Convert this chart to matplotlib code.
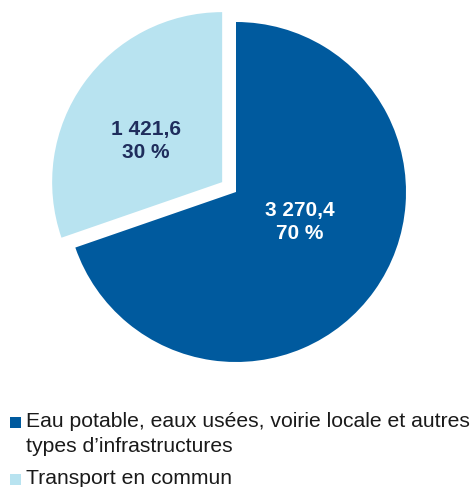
import matplotlib.pyplot as plt
from matplotlib.patches import Rectangle

# data
categories = ["Eau potable, eaux usées, voirie locale et autres\ntypes d\u2019infrastructures",
              "Transport en commun"]
values = [3270.4, 1421.6]
value_labels = ["3 270,4", "1 421,6"]
pct_labels = ["70 %", "30 %"]
colors = ["#005A9E", "#B8E3F0"]
label_colors = ["white", "#1F2D5C"]

plt.rcParams['font.family'] = ['Liberation Sans', 'DejaVu Sans']

W, H = 474, 487
fig = plt.figure(figsize=(W / 100, H / 100), dpi=100)
ax = fig.add_axes([0, 0, 1, 1])

cx, cy, r = 236, H - 192, 170
# explode is in data units here (pixels), not a fraction of the radius
wedges, _ = ax.pie(values, colors=colors, startangle=90, counterclock=False,
                   explode=[0, 17], center=(cx, cy), radius=r, frame=True,
                   wedgeprops=dict(linewidth=0))
ax.set_xlim(0, W)
ax.set_ylim(0, H)
ax.set_aspect('equal')
ax.axis('off')

# slice labels
label_pos = [(300, H - 222), (146, H - 141)]
for (x, y), v, p, c in zip(label_pos, value_labels, pct_labels, label_colors):
    ax.text(x, y, f"{v}\n{p}", ha='center', va='center', color=c,
            fontsize=15, fontweight='bold', linespacing=1.25)

# legend (manual)
leg_y = [427, 484]
for (y, lab, col) in zip(leg_y, categories, colors):
    ax.add_patch(Rectangle((10, H - y - 1), 11, 11, facecolor=col,
                           edgecolor='none', clip_on=False))
    lines = lab.split("\n")
    for i, line in enumerate(lines):
        ax.text(26, H - y - i * 25, line, ha='left', va='baseline',
                fontsize=15.2, color='#1a1a1a')

fig.savefig("out.png", dpi=100)
